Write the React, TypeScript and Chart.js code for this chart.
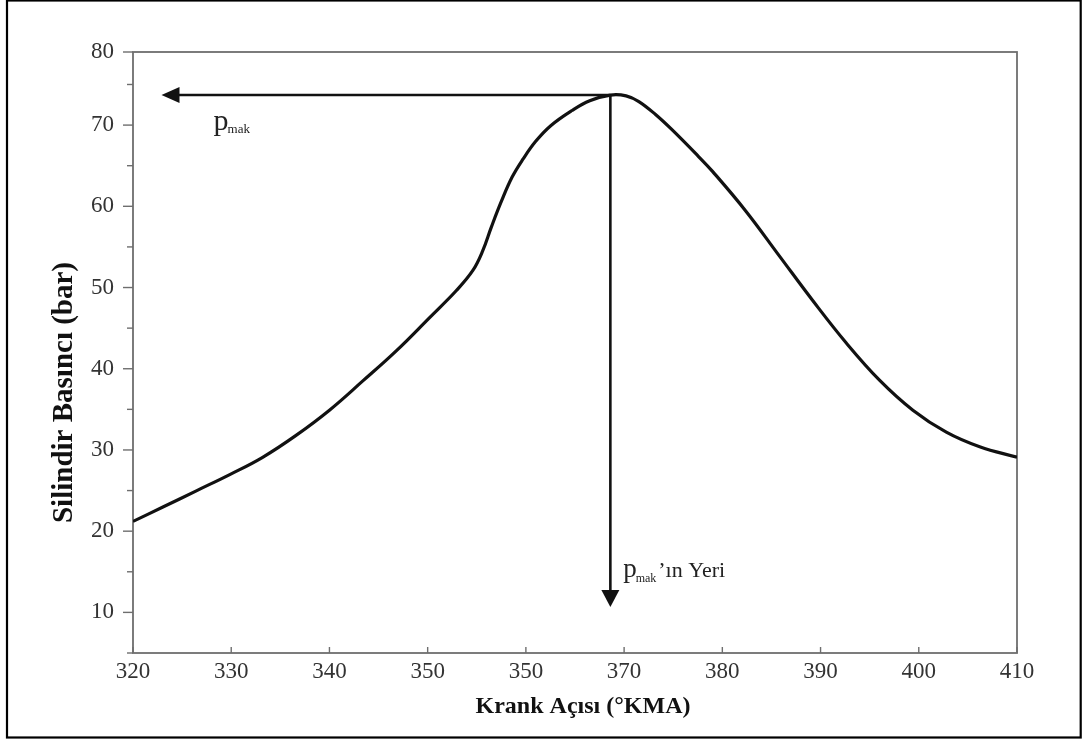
import React, { useEffect, useRef } from "react";
import { Chart, registerables } from "chart.js";

Chart.register(...registerables);

// ---- data ----
const crankAngles = [
  320, 323.1, 326.5, 329.9, 333.2, 336.6, 340, 343.4, 346.8, 350.2, 352.9,
  354.6, 355.6, 356.5, 357.5, 358.6, 359.7, 361, 362.5, 364.7, 366.5, 368.6,
  370.2, 371.5, 373.2, 374.9, 377.6, 379, 382.4, 385.8, 389.2, 392.6, 396,
  399.4, 402.8, 406.2, 410,
];
const pressures = [
  21.2, 23.0, 25.0, 27.0, 29.1, 31.8, 34.9, 38.5, 42.2, 46.3, 49.6,
  52.1, 54.5, 57.5, 60.6, 63.6, 65.8, 68.0, 69.9, 71.8, 73.0, 73.7,
  73.6, 72.9, 71.3, 69.4, 66.1, 64.3, 59.4, 53.9, 48.4, 43.2, 38.6,
  34.9, 32.2, 30.4, 29.1,
];

const xTickValues = [320, 330, 340, 350, 360, 370, 380, 390, 400, 410];
const xTickLabels = ["320", "330", "340", "350", "350", "370", "380", "390", "400", "410"];
const yTickValues = [5, 10, 15, 20, 25, 30, 35, 40, 45, 50, 55, 60, 65, 70, 75, 79];
const yTickLabels = ["", "10", "", "20", "", "30", "", "40", "", "50", "", "60", "", "70", "", "80"];

const xTitle = "Krank Açısı (°KMA)";
const yTitle = "Silindir Basıncı (bar)";
const pLetter = "p";
const pSub = "mak";
const locSuffix = "’ın Yeri";

// arrow tips (data units)
const hArrowTipAngle = 322.9;
const vArrowTipPressure = 10.65;
// label anchors (data units)
const pLabelAt = [328.2, 69.4];
const locLabelAt = [369.9, 14.4];

const SERIF = "'Liberation Serif', 'Times New Roman', serif";

export default function App() {
  const ref = useRef<HTMLCanvasElement | null>(null);

  useEffect(() => {
    document.body.style.margin = "0";
    const canvas = ref.current!;
    let peakIdx = 0;
    pressures.forEach((v, i) => {
      if (v > pressures[peakIdx]) peakIdx = i;
    });
    const peakX = crankAngles[peakIdx];
    const peakY = pressures[peakIdx];

    const decor = {
      id: "decor",
      beforeDatasetsDraw(chart: any) {
        const { ctx, chartArea: a, scales } = chart;
        const x = scales.x;
        const y = scales.y;
        ctx.save();
        // outer frame
        ctx.strokeStyle = "#000";
        ctx.lineWidth = 2.2;
        ctx.strokeRect(7, 0.5, 1073.7, 737);
        // plot box
        ctx.strokeStyle = "#6e6e6e";
        ctx.lineWidth = 1.8;
        ctx.strokeRect(a.left, a.top, a.right - a.left, a.bottom - a.top);
        ctx.lineWidth = 1.4;
        // y ticks (outward)
        yTickValues.forEach((v, i) => {
          const py = y.getPixelForValue(v);
          const len = yTickLabels[i] ? 10 : 6;
          ctx.beginPath();
          ctx.moveTo(a.left - len, py);
          ctx.lineTo(a.left, py);
          ctx.stroke();
        });
        // x ticks (inward)
        xTickValues.forEach((v) => {
          const px = x.getPixelForValue(v);
          ctx.beginPath();
          ctx.moveTo(px, a.bottom);
          ctx.lineTo(px, a.bottom - 6);
          ctx.stroke();
        });

        // axis titles
        ctx.fillStyle = "#111";
        ctx.textAlign = "center";
        ctx.textBaseline = "alphabetic";
        ctx.font = `bold 24px ${SERIF}`;
        ctx.fillText(xTitle, (a.left + a.right) / 2 + 8, a.bottom + 60);
        ctx.save();
        ctx.translate(a.left - 61, (a.top + a.bottom) / 2 + 40);
        ctx.rotate(-Math.PI / 2);
        ctx.font = `bold 29px ${SERIF}`;
        ctx.fillText(yTitle, 0, 0);
        ctx.restore();
        ctx.restore();
      },
      afterDatasetsDraw(chart: any) {
        const { ctx, scales } = chart;
        const x = scales.x;
        const y = scales.y;
        const px0 = x.getPixelForValue(peakX);
        const py0 = y.getPixelForValue(peakY);
        ctx.save();
        ctx.strokeStyle = "#111";
        ctx.fillStyle = "#111";
        // horizontal arrow
        const hx = x.getPixelForValue(hArrowTipAngle);
        ctx.lineWidth = 2.4;
        ctx.beginPath();
        ctx.moveTo(px0, py0);
        ctx.lineTo(hx + 14, py0);
        ctx.stroke();
        ctx.beginPath();
        ctx.moveTo(hx, py0);
        ctx.lineTo(hx + 18, py0 - 8);
        ctx.lineTo(hx + 18, py0 + 8);
        ctx.closePath();
        ctx.fill();
        // vertical arrow
        const vy = y.getPixelForValue(vArrowTipPressure);
        ctx.lineWidth = 2.6;
        ctx.beginPath();
        ctx.moveTo(px0, py0);
        ctx.lineTo(px0, vy - 14);
        ctx.stroke();
        ctx.beginPath();
        ctx.moveTo(px0, vy);
        ctx.lineTo(px0 - 9, vy - 17);
        ctx.lineTo(px0 + 9, vy - 17);
        ctx.closePath();
        ctx.fill();

        // labels
        ctx.fillStyle = "#222";
        ctx.textBaseline = "alphabetic";
        ctx.textAlign = "left";
        let lx = x.getPixelForValue(pLabelAt[0]);
        let ly = y.getPixelForValue(pLabelAt[1]);
        ctx.font = `30px ${SERIF}`;
        ctx.fillText(pLetter, lx, ly);
        let w = ctx.measureText(pLetter).width;
        ctx.font = `13px ${SERIF}`;
        ctx.fillText(pSub, lx + w - 1, ly + 3);

        lx = x.getPixelForValue(locLabelAt[0]);
        ly = y.getPixelForValue(locLabelAt[1]);
        ctx.font = `27px ${SERIF}`;
        ctx.fillText(pLetter, lx, ly);
        w = ctx.measureText(pLetter).width;
        ctx.font = `12px ${SERIF}`;
        ctx.fillText(pSub, lx + w - 1, ly + 5);
        const w2 = ctx.measureText(pSub).width;
        ctx.font = `22px ${SERIF}`;
        ctx.fillText(locSuffix, lx + w + w2 + 1, ly);
        ctx.restore();
      },
    };

    const chart = new Chart(canvas, {
      type: "line",
      data: {
        datasets: [
          {
            data: crankAngles.map((a, i) => ({ x: a, y: pressures[i] })),
            borderColor: "#111",
            borderWidth: 3.2,
            pointRadius: 0,
            tension: 0.4,
            fill: false,
          },
        ],
      },
      options: {
        animation: false,
        responsive: false,
        events: [],
        layout: { padding: { top: 52, right: 66, left: 0, bottom: 0 } },
        plugins: { legend: { display: false }, tooltip: { enabled: false } },
        scales: {
          x: {
            type: "linear",
            min: 320,
            max: 410,
            afterBuildTicks: (s: any) => {
              s.ticks = xTickValues.map((v) => ({ value: v }));
            },
            afterFit: (s: any) => {
              s.height = 89;
            },
            grid: { display: false, drawTicks: false },
            border: { display: false },
            ticks: {
              padding: 5,
              maxRotation: 0,
              autoSkip: false,
              color: "#333",
              font: { family: SERIF, size: 23 },
              callback: (v: any) => {
                const i = xTickValues.indexOf(Number(v));
                return i >= 0 ? xTickLabels[i] : "";
              },
            },
            title: { display: false },
          },
          y: {
            type: "linear",
            min: 5,
            max: 79,
            afterBuildTicks: (s: any) => {
              s.ticks = yTickValues.map((v) => ({ value: v }));
            },
            afterFit: (s: any) => {
              s.width = 133;
            },
            grid: { display: false, drawTicks: false },
            border: { display: false },
            ticks: {
              padding: 19,
              autoSkip: false,
              color: "#333",
              font: { family: SERIF, size: 23 },
              callback: (v: any) => {
                const i = yTickValues.indexOf(Number(v));
                return i >= 0 ? yTickLabels[i] : "";
              },
            },
            title: { display: false },
          },
        },
      },
      plugins: [decor],
    } as any);

    return () => chart.destroy();
  }, []);

  return <canvas ref={ref} width={1083} height={742} style={{ display: "block" }} />;
}
